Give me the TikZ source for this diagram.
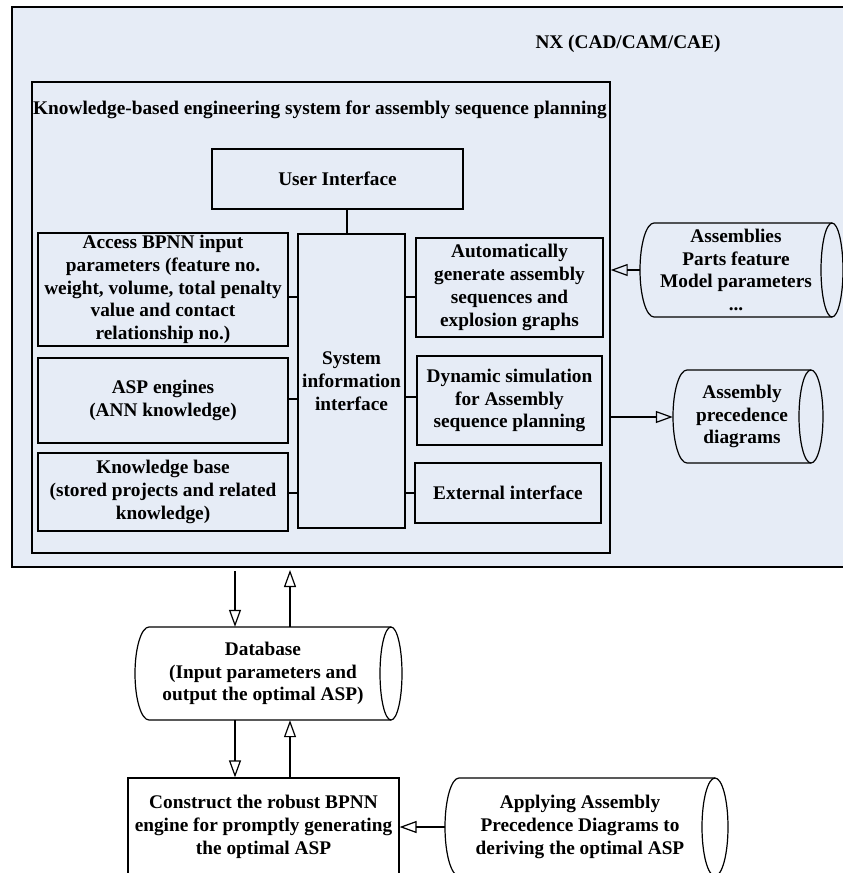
\documentclass[tikz,border=0pt]{standalone}
\usepackage{fontspec}
\setmainfont{Liberation Serif}
\usetikzlibrary{arrows.meta}
\definecolor{panel}{RGB}{230,236,246}

% Outline of a horizontal drum: left x, x of the end ellipse centre, top y, bottom y, ellipse x-radius
\newcommand{\drumoutline}[5]{%
  \draw[line width=1.2pt] (#2,#3) -- ({#1+14},#3)
    arc[start angle=270, end angle=90, x radius=14, y radius={(#4-#3)/2}] -- (#2,#4);
  \draw[line width=1.2pt] (#2,{(#3+#4)/2}) ellipse[x radius=#5, y radius={(#4-#3)/2}];
}

\begin{document}
\begin{tikzpicture}[x=1pt, y=1pt, yscale=-1,
  lbl/.style={font=\fontsize{19.3}{22.8}\selectfont\bfseries, align=center, inner sep=0pt},
  box/.style={lbl, draw, line width=1.2pt, fill=panel},
  drumtext/.style={lbl, draw=none},
  link/.style={line width=1.2pt},
  openarrow/.style={line width=1.2pt, -{Triangle[open, length=17pt, width=12pt]}}]

\useasboundingbox (0,0) rectangle (843,873);
\clip (0,0) rectangle (843,873);

% NX environment and the KBE system frame
\node[draw, line width=1.8pt, fill=panel, minimum width=848pt, minimum height=560pt, inner sep=0pt] (outer) at (436,287) {};
\node[lbl] (nxtitle) at (628,44) {NX (CAD/CAM/CAE)};
\node[draw, line width=1.4pt, fill=panel, minimum width=578pt, minimum height=471pt, inner sep=0pt] (kbe) at (321,317.5) {};
\node[lbl] (kbetitle) at (320,110) {Knowledge-based engineering system for assembly sequence planning};

% Modules of the system
\node[box, minimum width=251pt, minimum height=60pt] (ui) at (337.5,179) {User Interface};
\node[box, minimum width=250pt, minimum height=113pt] (acc) at (163,289.5)
  {Access BPNN input\\parameters (feature no.\\weight, volume, total penalty\\value and contact\\relationship no.)};
\node[box, minimum width=250pt, minimum height=85pt] (asp) at (163,400.5) {ASP engines\\(ANN knowledge)};
\node[box, minimum width=250pt, minimum height=78pt] (kb) at (163,492)
  {Knowledge base\\(stored projects and related\\knowledge)};
\node[box, minimum width=107pt, minimum height=294pt] (sii) at (351.5,381) {System\\information\\interface};
\node[box, minimum width=187pt, minimum height=99pt] (auto) at (509.5,287.5)
  {Automatically\\generate assembly\\sequences and\\explosion graphs};
\node[box, minimum width=185pt, minimum height=89pt] (dyn) at (509.5,400.5)
  {Dynamic simulation\\for Assembly\\sequence planning};
\node[box, minimum width=186pt, minimum height=60pt] (ext) at (508,493) {External interface};

% Data stores
\drumoutline{640}{832}{223}{317}{11}
\node[drumtext, minimum width=192pt, minimum height=94pt] (asm) at (736,270)
  {Assemblies\\Parts feature\\Model parameters\\...};
\drumoutline{673}{811}{370}{463}{12}
\node[drumtext, minimum width=138pt, minimum height=93pt] (prec) at (742,416.5)
  {Assembly\\precedence\\diagrams};
\drumoutline{135}{391}{627}{720}{11}
\node[drumtext, minimum width=256pt, minimum height=93pt] (db) at (263,673.5)
  {Database\\(Input parameters and\\output the optimal ASP)};
\drumoutline{445}{715}{778}{876}{13}
\node[drumtext, minimum width=270pt, minimum height=98pt] (app) at (580,827)
  {Applying Assembly\\Precedence Diagrams to\\deriving the optimal ASP};

% BPNN engine
\node[box, fill=none, minimum width=271pt, minimum height=98pt] (bpnn) at (263.5,827)
  {Construct the robust BPNN\\engine for promptly generating\\the optimal ASP};

% Links inside the system
\draw[link] (ui.south -| 347,0) -- (sii.north -| 347,0);
\draw[link] (acc.east |- 0,297) -- (sii.west |- 0,297);
\draw[link] (asp.east |- 0,399) -- (sii.west |- 0,399);
\draw[link] (kb.east |- 0,493) -- (sii.west |- 0,493);
\draw[link] (sii.east |- 0,297) -- (auto.west |- 0,297);
\draw[link] (sii.east |- 0,397) -- (dyn.west |- 0,397);
\draw[link] (sii.east |- 0,493) -- (ext.west |- 0,493);

% Data flow
\draw[openarrow] (asm.west) -- (kbe.east |- asm.west);
\draw[openarrow] (kbe.east |- 0,417) -- (prec.west |- 0,417);
\coordinate (outdown) at (235,571);
\coordinate (outup) at (290,570);
\draw[openarrow] (outdown) -- (db.north -| outdown);
\draw[openarrow] (db.north -| outup) -- (outup);
\draw[openarrow] (db.south -| outdown) -- (bpnn.north -| outdown);
\draw[openarrow] (bpnn.north -| outup) -- (db.south -| outup);
\draw[openarrow] (app.west |- 0,827) -- (bpnn.east |- 0,827);

\end{tikzpicture}
\end{document}
